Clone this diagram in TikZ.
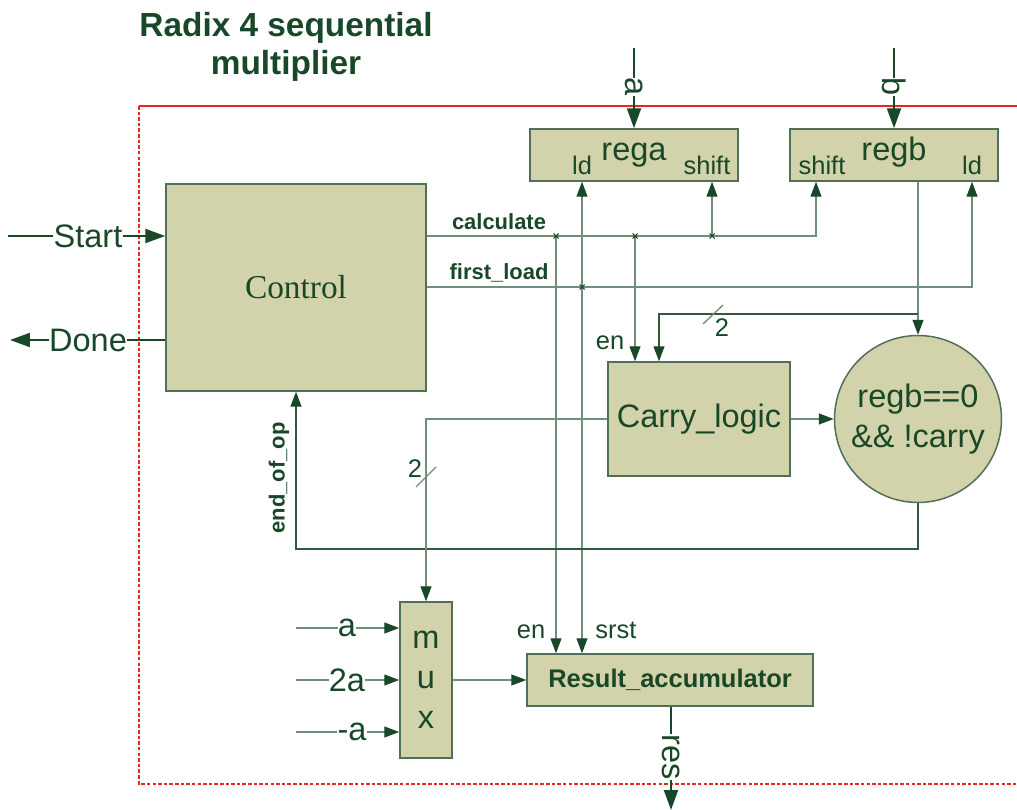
\documentclass[tikz,border=0pt]{standalone}
\usepackage{fontspec}
\setmainfont{Liberation Sans}
\newfontfamily\serifctl{Liberation Serif}
\usetikzlibrary{arrows.meta}
\definecolor{ink}{RGB}{24,72,40}
\definecolor{boxfill}{RGB}{211,211,171}
\definecolor{boxline}{RGB}{80,112,90}
\definecolor{wire}{RGB}{112,142,122}
\definecolor{darkwire}{RGB}{50,88,62}
\definecolor{redline}{RGB}{232,36,36}
\tikzset{
  blk/.style={draw=boxline, fill=boxfill, line width=0.85pt, inner sep=0pt, text=ink},
  boxtxt/.style={font=\fontsize{18.5}{22}\selectfont, text=ink, inner sep=0pt},
  pintxt/.style={font=\fontsize{14.5}{17}\selectfont, text=ink, inner sep=0pt},
  sigtxt/.style={font=\bfseries\fontsize{12.5}{15}\selectfont, text=ink, inner sep=0pt},
  wr/.style={draw=wire, line width=0.75pt},
  arr/.style={wr, -{Triangle[length=0.3cm, width=0.22cm, color=ink]}},
  arrtwo/.style={wr, {Triangle[length=0.3cm, width=0.22cm, color=ink]}-{Triangle[length=0.3cm, width=0.22cm, color=ink]}},
  bus/.style={draw=ink, line width=1.2pt},
  busarr/.style={bus, -{Triangle[length=0.4cm, width=0.28cm]}},
}
\begin{document}
\begin{tikzpicture}[x=0.02cm, y=-0.02cm]
\useasboundingbox (0,0) rectangle (1017,810);
% frame of the design
\draw[redline, line width=0.6pt] (1017,106) -- (139,106);
\draw[redline, line width=0.6pt, dash pattern=on 2pt off 1.2pt] (139,106) -- (139,784) -- (1017,784);
\node[anchor=base, text=ink, font=\bfseries\fontsize{19}{21.5}\selectfont] (titleA) at (286,37) {Radix 4 sequential};
\node[anchor=base, text=ink, font=\bfseries\fontsize{19}{21.5}\selectfont] (titleB) at (286,75) {multiplier};

% blocks
\node[blk, minimum width=5.2cm, minimum height=4.14cm, font=\serifctl\fontsize{19}{22}\selectfont] (control) at (296,287.5) {Control};
\node[blk, minimum width=4.16cm, minimum height=1.04cm] (rega) at (634,155) {};
\node[blk, minimum width=4.16cm, minimum height=1.04cm] (regb) at (894,155) {};
\node[blk, minimum width=3.64cm, minimum height=2.28cm, font=\fontsize{18.5}{22}\selectfont] (carry) at (699,419) {Carry\_logic};
\node[blk, circle, minimum size=3.34cm, align=center, font=\fontsize{18.5}{22.7}\selectfont] (zero) at (918,419) {regb==0\\\&\& !carry};
\node[blk, minimum width=1.04cm, minimum height=3.12cm, align=center, font=\fontsize{18.5}{22.7}\selectfont] (mux) at (426,680) {m\\u\\x};
\node[blk, minimum width=5.72cm, minimum height=1.04cm, font=\bfseries\fontsize{14.5}{17}\selectfont] (acc) at (670,680) {Result\_accumulator};

% register texts
\node[pintxt, anchor=base] (aLd) at (582,175) {ld};
\node[boxtxt, anchor=base] (aName) at (634,161) {rega};
\node[pintxt, anchor=base] (aShift) at (707,175) {shift};
\node[pintxt, anchor=base] (bShift) at (822,175) {shift};
\node[boxtxt, anchor=base] (bName) at (894,161) {regb};
\node[pintxt, anchor=base] (bLd) at (972,175) {ld};

% signal names
\node[sigtxt, anchor=base] (calcLbl) at (499,230) {calculate};
\node[sigtxt, anchor=base] (loadLbl) at (499,280) {first\_load};
\node[sigtxt, rotate=90] (eopLbl) at (279,478) {end\_of\_op};
\node[pintxt, anchor=base] (carryEn) at (610,350) {en};
\node[pintxt, anchor=base] (accEn) at (531,638) {en};
\node[pintxt, anchor=base] (accSrst) at (616,638) {srst};
\node[pintxt, anchor=base] (wTwo) at (722,337) {2};
\node[pintxt, anchor=base] (wTwoB) at (415,478) {2};

% Start and Done
\coordinate (startSrc) at (8,236);
\node[boxtxt] (start) at (88,236) {Start};
\draw[bus] (startSrc) -- (start);
\draw[busarr] (start) -- (control.west |- start);
\coordinate (doneDst) at (10,340);
\node[boxtxt] (done) at (88,340) {Done};
\draw[bus] (control.west |- done) -- (done);
\draw[busarr] (done) -- (doneDst);

% operands in
\coordinate (aSrc) at (634,48);
\node[boxtxt, rotate=-90] (aIn) at (634,87) {a};
\draw[bus] (aSrc) -- (aIn);
\draw[busarr] (aIn) -- (rega.north);
\coordinate (bSrc) at (894,48);
\node[boxtxt, rotate=-90] (bIn) at (894,87) {b};
\draw[bus] (bSrc) -- (bIn);
\draw[busarr] (bIn) -- (regb.north);

% control lines
\coordinate (calc) at (control.east |- 0,236);
\coordinate (load) at (control.east |- 0,287);
\draw[arr] (calc) -| (regb.south -| 816,0);
\draw[arr] (load) -| (regb.south -| 972,0);
\draw[arr] (calc -| 712,0) -- (rega.south -| 712,0);
\draw[arr] (calc -| 635,0) -- (carry.north -| 635,0);
\draw[arr] (calc -| 556,0) -- (acc.north -| 556,0);
\draw[arrtwo] (rega.south -| 582,0) -- (acc.north -| 582,0);
\foreach \x/\y in {556/236, 635/236, 712/236, 582/287}
  \draw[ink, line width=0.6pt] (\x-2.5,\y-2.5) -- (\x+2.5,\y+2.5) (\x-2.5,\y+2.5) -- (\x+2.5,\y-2.5);

% datapath
\draw[arr] (regb.south -| zero.north) -- (zero.north);
\coordinate (split) at (zero.north |- 0,314);
\draw[arr, draw=darkwire] (split) -| (carry.north -| 659,0);
\draw[wr] (703,324) -- (723,305);
\draw[arr] (carry.east) -- (carry.east -| zero.west);
\draw[arr, draw=darkwire] (zero.south) -- (zero.south |- 0,549) -| (control.south -| 296,0);
\draw[arr] (carry.west) -| (mux.north);
\draw[wr] (416,487) -- (436,467);
\draw[arr] (mux.east) -- (mux.east -| acc.west);

% mux inputs
\foreach \t/\lx/\y [count=\i] in {a/347/628, 2a/347/680, -a/352/732} {
  \coordinate (src\i) at (296,\y);
  \node[boxtxt] (in\i) at (\lx,\y) {\t};
  \draw[wr] (src\i) -- (in\i);
  \draw[arr] (in\i) -- (in\i -| mux.west);
}

% result out
\node[boxtxt, rotate=-90] (resOut) at (671,757) {res};
\coordinate (resDst) at (671,810);
\draw[bus] (acc.south -| resOut) -- (resOut);
\draw[busarr] (resOut) -- (resDst);
\end{tikzpicture}
\end{document}
